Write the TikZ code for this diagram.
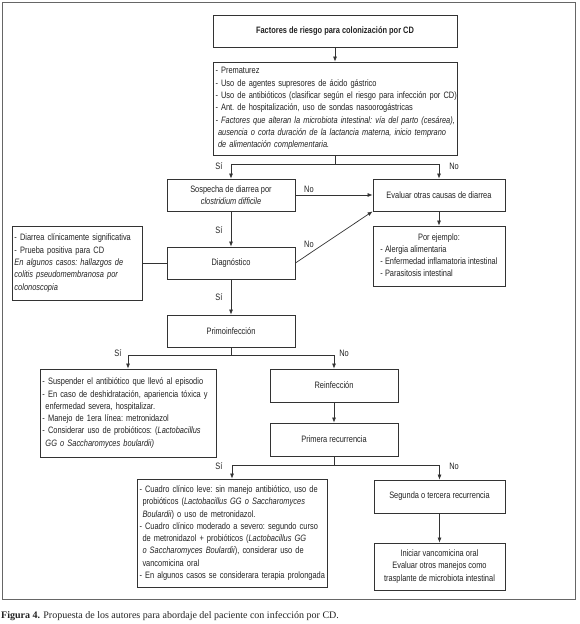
\documentclass[tikz,border=0pt]{standalone}
\usepackage{fontspec}
\setmainfont[FakeStretch=0.8]{Liberation Sans}
\newfontfamily\capfont{Liberation Serif}
\usetikzlibrary{arrows.meta,positioning}
\definecolor{ink}{HTML}{222222}
\definecolor{lin}{HTML}{333333}
\definecolor{frm}{HTML}{666666}
\newcommand{\ml}[1]{\mbox{#1}}
\begin{document}
\begin{tikzpicture}[x=1bp,y=-1bp,
  every node/.style={text=ink,font=\fontsize{9.3bp}{12.3bp}\selectfont\frenchspacing},
  box/.style={draw=lin,line width=0.8bp,inner sep=0pt,align=center},
  lbox/.style={draw=lin,line width=0.8bp,inner xsep=2.5bp,inner ysep=0pt,align=left},
  arr/.style={draw=lin,line width=0.7bp,-{Latex[length=5bp,width=4bp]}},
  ln/.style={draw=lin,line width=0.7bp},
  lab/.style={inner sep=0pt}]
\useasboundingbox (0,0) rectangle (580,624);
\draw[frm,line width=0.8bp] (2,2) rectangle (575,599);

% boxes
\node[box,minimum width=244bp,minimum height=32bp] (f1) at (335,31) {\textbf{Factores de riesgo para colonizaci\'on por CD}};
\node[lbox,minimum width=244bp,minimum height=93bp,text width=239bp] (f2) at (335,108.5) {%
\ml{- Prematurez}\\
\ml{- Uso de agentes supresores de \'acido g\'astrico}\\
\ml{- Uso de antibi\'oticos (clasificar seg\'un el riesgo para infecci\'on por CD)}\\
\ml{- Ant. de hospitalizaci\'on, uso de sondas nasoorog\'astricas}\\
\ml{\textit{- Factores que alteran la microbiota intestinal: v\'ia del parto (ces\'area),}}\\
\ml{\hspace*{2.5bp}\textit{ausencia o corta duraci\'on de la lactancia materna, inicio temprano}}\\
\ml{\hspace*{2.5bp}\textit{de alimentaci\'on complementaria.}}};

\node[box,minimum width=128bp,minimum height=32bp] (sos) at (231,195) {Sospecha de diarrea por\\\textit{clostridium difficile}};
\node[box,minimum width=132bp,minimum height=32bp] (eva) at (439,195) {Evaluar otras causas de diarrea};
\node[box,minimum width=128bp,minimum height=32bp] (diag) at (231,263) {Diagn\'ostico};
\node[lbox,minimum width=130bp,minimum height=74bp,text width=125bp] (izq) at (77,263) {%
\ml{- Diarrea cl\'inicamente significativa}\\
\ml{- Prueba positiva para CD}\\
\ml{\textit{En algunos casos: hallazgos de}}\\
\ml{\textit{colitis pseudomembranosa por}}\\
\ml{\textit{colonoscopia}}};
\node[box,minimum width=132bp,minimum height=60bp] (ej) at (439,256) {%
\begin{tabular}{@{}l@{}}
\multicolumn{1}{@{}c@{}}{Por ejemplo:}\\
- Alergia alimentaria\\
- Enfermedad inflamatoria intestinal\\
- Parasitosis intestinal
\end{tabular}};

\node[box,minimum width=128bp,minimum height=32bp] (primo) at (231,331) {Primoinfecci\'on};
\node[lbox,minimum width=176bp,minimum height=88bp,text width=171bp] (susp) at (128,413) {%
\ml{- Suspender el antibi\'otico que llev\'o al episodio}\\
\ml{- En caso de deshidrataci\'on, apariencia t\'oxica y}\\
\ml{\hspace*{3bp}enfermedad severa, hospitalizar.}\\
\ml{- Manejo de 1era l\'inea: metronidazol}\\
\ml{- Considerar uso de probi\'oticos: (\textit{Lactobacillus}}\\
\ml{\hspace*{3bp}\textit{GG o Saccharomyces boulardii)}}};
\node[box,minimum width=128bp,minimum height=33bp] (rein) at (334,385.5) {Reinfecci\'on};
\node[box,minimum width=128bp,minimum height=33bp] (prec) at (334,439.5) {Primera recurrencia};

\node[lbox,minimum width=190bp,minimum height=108bp,text width=185bp] (cuad) at (232,533) {%
\ml{- Cuadro cl\'inico leve: sin manejo antibi\'otico, uso de}\\
\ml{\hspace*{3bp}probi\'oticos (\textit{Lactobacillus GG o Saccharomyces}}\\
\ml{\hspace*{3bp}\textit{Boulardii}) o uso de metronidazol.}\\
\ml{- Cuadro cl\'inico moderado a severo: segundo curso}\\
\ml{\hspace*{3bp}de metronidazol + probi\'oticos (\textit{Lactobacillus GG}}\\
\ml{\hspace*{3bp}\textit{o Saccharomyces Boulardii}), considerar uso de}\\
\ml{\hspace*{3bp}vancomicina oral}\\
\ml{- En algunos casos se considerara terapia prolongada}};
\node[box,minimum width=131bp,minimum height=33bp] (seg) at (439.5,496.5) {Segunda o tercera recurrencia};
\node[box,minimum width=131bp,minimum height=47bp] (ini) at (439.5,566.5) {Iniciar vancomicina oral\\Evaluar otros manejos como\\trasplante de microbiota intestinal};

% junction coordinates
\coordinate (j1) at (335,164);
\coordinate (j1l) at (231,164);
\coordinate (j1r) at (439,164);
\coordinate (j2) at (231,355);
\coordinate (j2l) at (128,355);
\coordinate (j2r) at (334,355);
\coordinate (j3) at (334,465);
\coordinate (j3l) at (232,465);
\coordinate (j3r) at (439.5,465);

% connectors
\draw[arr] (f1) -- (f2);
\draw[ln] (f2.south) -- (j1);
\draw[ln] (j1l) -- (j1r);
\draw[arr] (j1l) -- (sos.north);
\draw[arr] (j1r) -- (eva.north);
\draw[arr] (sos.east) -- (eva.west);
\draw[arr] (sos.south) -- (diag.north);
\draw[arr] (diag.east) -- (eva.south west);
\draw[arr] (eva.south) -- (ej.north);
\draw[ln] (izq.east) -- (diag.west);
\draw[arr] (diag.south) -- (primo.north);
\draw[ln] (primo.south) -- (j2);
\draw[ln] (j2l) -- (j2r);
\draw[arr] (j2l) -- (susp.north);
\draw[arr] (j2r) -- (rein.north);
\draw[arr] (rein.south) -- (prec.north);
\draw[ln] (prec.south) -- (j3);
\draw[ln] (j3l) -- (j3r);
\draw[arr] (j3l) -- (cuad.north);
\draw[arr] (j3r) -- (seg.north);
\draw[arr] (seg.south) -- (ini.north);

% labels
\node[lab] (l1) at (219,166) {S\'i};
\node[lab] (l2) at (454,166) {No};
\node[lab] (l3) at (309,189) {No};
\node[lab] (l4) at (219,230) {S\'i};
\node[lab] (l5) at (309,244) {No};
\node[lab] (l6) at (219,297) {S\'i};
\node[lab] (l7) at (118,353) {S\'i};
\node[lab] (l8) at (344,353) {No};
\node[lab] (l9) at (219,466) {S\'i};
\node[lab] (l10) at (454,466) {No};

% caption
\node[anchor=west,inner sep=0pt,font=\capfont\fontsize{10bp}{11bp}\selectfont] (cap) at (1,616) {\textbf{Figura 4.} Propuesta de los autores para abordaje del paciente con infecci\'on por CD.};
\end{tikzpicture}
\end{document}
